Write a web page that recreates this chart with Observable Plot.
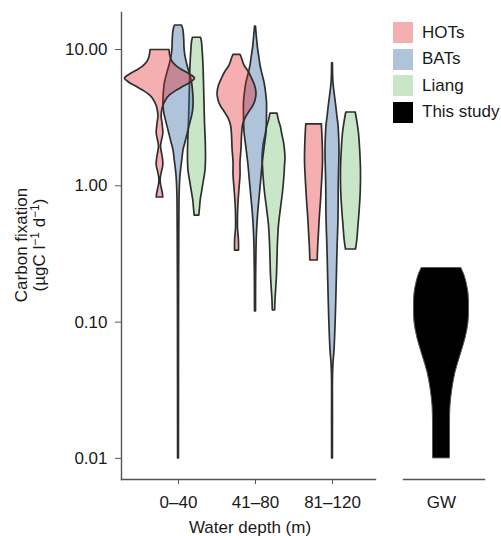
<!DOCTYPE html>
<html><head><meta charset="utf-8">
<script src="https://cdn.jsdelivr.net/npm/d3@7"></script>
<script src="https://cdn.jsdelivr.net/npm/@observablehq/plot@0.6"></script>
<style>
html,body{margin:0;padding:0;background:#fff;}
#chart{position:relative;width:501px;height:536px;font-family:"Liberation Sans",Arial,Helvetica,sans-serif;overflow:hidden;}
#main{position:absolute;left:0;top:0;}
#gw{position:absolute;left:385px;top:0;}
#legend{position:absolute;left:393px;top:22px;font-size:17px;color:#1a1a1a;}
.row{display:flex;align-items:center;height:21px;margin-bottom:5.5px;white-space:nowrap;}
.sw{width:20px;height:21px;margin-right:9px;flex:none;}
</style></head>
<body><div id="chart"><div id="main"></div><div id="gw"></div><div id="legend"></div></div>
<script>
// ---- data ----
const depthGroups = ["0–40", "41–80", "81–120"];
const sources = ["HOTs", "BATs", "Liang"];
const studyLabel = "This study";
const gwLabel = "GW";
const yTicks = [0.01, 0.1, 1, 10];

// violin profiles: [carbon fixation value, relative density]
const hots_0_40 = [[9.92,9.5],[9.19,10],[8.59,11],[8.03,13],[7.50,17],[7.01,23],[6.56,30],[6.13,35],[5.73,31],[5.35,24],[5.00,17],[4.60,10],[4.23,6],[3.88,3.5],[3.57,2.2],[3.22,1.6],[2.82,2.6],[2.42,3.3],[2.15,2],[1.94,1],[1.73,2],[1.56,3],[1.41,3.3],[1.27,2],[1.15,0.8],[1.04,0.8],[0.955,1.8],[0.878,2.8],[0.821,3.3]];
const bats_0_40 = [[15.0,3.5],[14.3,4.5],[13.3,5.2],[11.6,5.8],[10.2,6],[8.88,7],[7.63,9],[6.56,11.5],[5.73,13.5],[5.00,14.5],[4.37,15],[3.82,15],[3.34,14],[2.91,12],[2.46,9.5],[2.08,7],[1.82,5],[1.59,4],[1.39,3],[1.19,2],[1.0,1.4],[0.78,1.0],[0.47,0.8],[0.20,0.6],[0.062,0.5],[0.019,0.45],[0.01,0.4]];
const liang_0_40 = [[12.2,4],[11.3,5],[10.2,5.5],[7.63,6.5],[5.73,7],[4.09,7.5],[2.91,8],[2.08,8.8],[1.59,9],[1.29,8.5],[1.04,6.5],[0.893,5],[0.78,3.7],[0.682,3],[0.605,2.3]];
const hots_41_80 = [[9.15,3.5],[8.59,5],[7.63,7.5],[6.78,12],[6.13,15],[5.44,18],[4.76,19.5],[4.23,18.5],[3.82,16],[3.45,12],[3.12,8.5],[2.77,6],[2.34,5],[1.88,4.5],[1.48,3.5],[1.19,3.5],[0.955,2.5],[0.754,1.5],[0.605,1],[0.486,1],[0.411,1.8],[0.371,2],[0.335,2]];
const bats_41_80 = [[14.7,0.5],[12.7,1.2],[10.2,2.5],[8.59,4],[7.63,5],[6.56,7],[5.73,9],[4.84,10.5],[4.09,11.5],[3.28,11.5],[2.46,11],[1.88,9],[1.41,7],[1.06,5.5],[0.807,4],[0.605,2.5],[0.454,1.5],[0.347,1],[0.195,0.6],[0.12,0.5]];
const liang_41_80 = [[3.39,3.5],[3.01,5],[2.68,7],[2.34,8.5],[2.08,10],[1.82,11],[1.59,11.5],[1.39,11],[1.19,10.5],[0.893,9],[0.682,7],[0.511,5],[0.384,4],[0.293,3.5],[0.220,3],[0.165,2],[0.144,1.5],[0.122,1.2]];
const hots_81_120 = [[2.82,7.8],[2.15,8.6],[1.53,9],[1.04,8],[0.78,7],[0.585,5.8],[0.432,4.8],[0.335,4],[0.283,3.7]];
const bats_81_120 = [[7.93,0.4],[6.45,0.6],[5.63,1],[4.84,2],[4.23,3],[3.69,4],[3.17,5],[2.77,6],[2.42,6.5],[1.82,7],[1.04,6.3],[0.585,6],[0.335,5],[0.192,4.2],[0.108,3.3],[0.062,2],[0.05,1],[0.04,0.5],[0.019,0.45],[0.01,0.4]];
const liang_81_120 = [[3.45,4.7],[2.91,6.5],[2.42,8],[1.82,9.2],[1.29,10],[0.924,9.8],[0.659,8.7],[0.511,7.5],[0.397,6.3],[0.341,5]];
const gw_study = [[0.248,20],[0.220,23],[0.195,25],[0.162,27],[0.132,27.5],[0.0993,27],[0.0758,24],[0.0569,19],[0.0427,14],[0.0326,11],[0.0244,9],[0.0183,8.5],[0.0135,8.5],[0.01,8.5]];

// ---- styling ----
const colors = {HOTs: "#E41A1C", BATs: "#376BA2", Liang: "#4DAF4A"};
const alphas = {HOTs: 0.35, BATs: 0.4, Liang: 0.3};
const dodge = {HOTs: -0.24, BATs: 0, Liang: 0.24};
const k = 1 / 77; // density -> x units
const yDomain = [0.0070, 18.69];
const fontFamily = '"Liberation Sans", Arial, Helvetica, sans-serif';
const fs = 17;

const profiles = [
  ["HOTs", 0, hots_0_40], ["BATs", 0, bats_0_40], ["Liang", 0, liang_0_40],
  ["HOTs", 1, hots_41_80], ["BATs", 1, bats_41_80], ["Liang", 1, liang_41_80],
  ["HOTs", 2, hots_81_120], ["BATs", 2, bats_81_120], ["Liang", 2, liang_81_120]
];
const rows = profiles.flatMap(([source, group, prof]) =>
  prof.map(([value, density]) => ({source, group, value, density, key: source + group})));

const violinMarks = sources.slice().reverse().map(s =>
  Plot.areaX(rows.filter(r => r.source === s), {
    y: "value",
    x1: d => d.group + dodge[s] - d.density * k,
    x2: d => d.group + dodge[s] + d.density * k,
    z: "key",
    fill: colors[s], fillOpacity: alphas[s],
    stroke: "#2e2e2e", strokeWidth: 1.7, curve: "catmull-rom"
  }));

const style = {fontFamily, fontSize: fs + "px", color: "#1a1a1a", background: "transparent", overflow: "visible"};

const main = Plot.plot({
  width: 385, height: 536,
  marginLeft: 121, marginRight: 10, marginTop: 12, marginBottom: 57,
  style,
  x: {type: "linear", domain: [-57/77, 2 + 43/77]},
  y: {type: "log", domain: yDomain},
  marks: [
    ...violinMarks,
    Plot.frame({anchor: "left", stroke: "#555", strokeWidth: 1.4}),
    Plot.frame({anchor: "bottom", stroke: "#555", strokeWidth: 1.4}),
    Plot.axisY({ticks: yTicks, tickFormat: d3.format(".2f"), tickSize: 6, tickPadding: 8, label: null, stroke: "#555", fill: "#1a1a1a"}),
    Plot.axisX({ticks: [0, 1, 2], tickFormat: i => depthGroups[i], tickSize: 5, tickPadding: 11, label: null, stroke: "#555", fill: "#1a1a1a"})
  ]
});
document.getElementById("main").appendChild(main);

const gwRows = gw_study.map(([value, density]) => ({value, density}));
const gw = Plot.plot({
  width: 116, height: 536,
  marginLeft: 18, marginRight: 17, marginTop: 12, marginBottom: 57,
  style,
  x: {type: "linear", domain: [-38/77, 43/77]},
  y: {type: "log", domain: yDomain, axis: null},
  marks: [
    Plot.areaX(gwRows, {y: "value", x1: d => -d.density * k, x2: d => d.density * k,
      fill: "black", stroke: "#555", strokeWidth: 1, curve: "catmull-rom"}),
    Plot.frame({anchor: "bottom", stroke: "#555", strokeWidth: 1.4}),
    Plot.axisX({ticks: [0], tickFormat: () => gwLabel, tickSize: 0, tickPadding: 16, label: null, fill: "#1a1a1a"})
  ]
});
document.getElementById("gw").appendChild(gw);

// axis titles
const msvg = d3.select(main);
msvg.append("text")
  .attr("transform", "translate(27,245) rotate(-90)")
  .attr("text-anchor", "middle").attr("fill", "#1a1a1a").attr("font-size", fs)
  .text("Carbon fixation");
const t2 = msvg.append("text")
  .attr("transform", "translate(45,245) rotate(-90)")
  .attr("text-anchor", "middle").attr("fill", "#1a1a1a").attr("font-size", fs);
t2.append("tspan").text("(µgC l");
t2.append("tspan").attr("dy", -6).attr("font-size", 12).text("−1");
t2.append("tspan").attr("dy", 6).text(" d");
t2.append("tspan").attr("dy", -6).attr("font-size", 12).text("−1");
t2.append("tspan").attr("dy", 6).text(")");
msvg.append("text")
  .attr("x", 250).attr("y", 533)
  .attr("text-anchor", "middle").attr("fill", "#1a1a1a").attr("font-size", fs)
  .text("Water depth (m)");

// legend
const legendItems = sources.map(s => ({label: s, color: colors[s], alpha: alphas[s]}))
  .concat([{label: studyLabel, color: "#000000", alpha: 1}]);
const leg = d3.select("#legend");
legendItems.forEach(it => {
  const row = leg.append("div").attr("class", "row");
  const c = d3.color(it.color); c.opacity = it.alpha;
  row.append("div").attr("class", "sw").style("background", c.formatRgb());
  row.append("span").text(it.label);
});
</script>
</body></html>
